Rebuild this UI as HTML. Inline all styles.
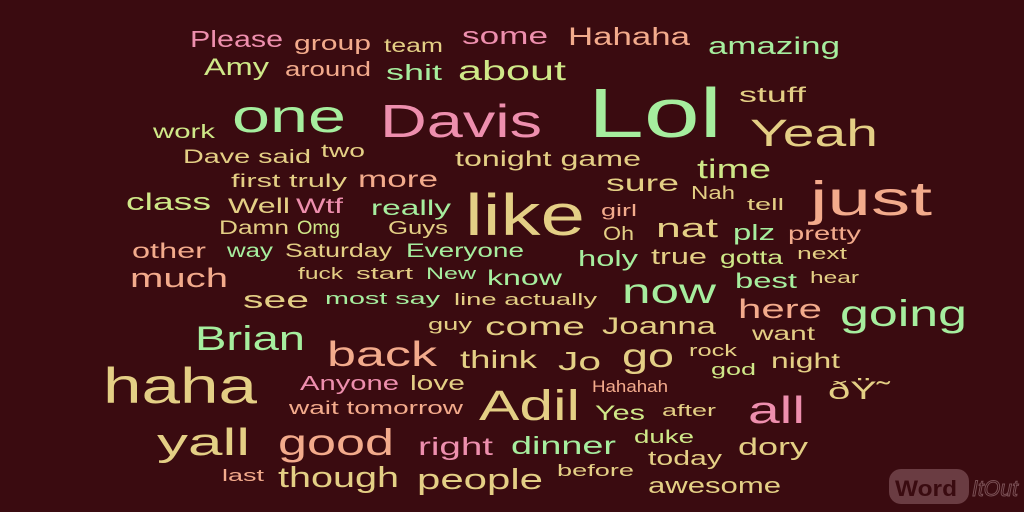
<!DOCTYPE html>
<html><head><meta charset="utf-8"><style>
html,body{margin:0;padding:0;background:#3a0b10;}
svg{display:block}
text{font-family:"Liberation Sans",sans-serif;}
.P{fill:#ee8fae}.G{fill:#a6ee9e}.Y{fill:#e4cf85}.S{fill:#f3ab8c}.L{fill:#cfe888}
</style></head><body>
<svg width="1024" height="512" viewBox="0 0 1024 512">
<rect width="1024" height="512" fill="#3a0b10"/>
<g id="words"></g>
<g>
<rect x="889" y="469" width="80" height="35" rx="12" fill="#6a3c42"/>
<text x="895" y="496" font-size="22" font-weight="bold" fill="#3a0b10" textLength="62" lengthAdjust="spacingAndGlyphs">Word</text>
<text x="972" y="496" font-size="22" font-style="italic" fill="none" stroke="#7a5055" stroke-width="1" textLength="46" lengthAdjust="spacingAndGlyphs">ItOut</text>
</g>
</svg>
<script>
const W=[
["Please",190,283,47,23,"P"],["group",294,371,50,20,"S"],["team",384,443,52,19,"Y"],["some",462,548,44,24,"P"],
["Hahaha",568,690,45,25,"S"],["amazing",708,840,54,24,"G"],["Amy",204,269,75,24,"L"],["around",285,371,76,20,"S"],
["shit",386,442,80,22,"G"],["about",458,566,80,28,"L"],["stuff",739,806,102,21,"Y"],["one",232,346,132,46,"G"],
["Davis",380,542,137,46,"P"],["Lol",588,722,137,70,"G"],["Yeah",750,878,146,38,"Y"],["work",153,215,138,19,"L"],
["Dave said",183,311,163,19,"Y"],["two",321,365,157,18,"Y"],["tonight game",455,641,166,21,"Y"],["time",697,771,178,27,"L"],
["first truly",231,347,187,18,"Y"],["more",358,438,187,23,"S"],["sure",606,679,191,23,"Y"],["Nah",691,735,199,18,"Y"],
["just",810,932,215,48,"S"],["like",465,585,235,58,"Y"],["class",126,211,210,24,"L"],["Well",228,290,213,21,"Y"],
["Wtf",296,343,213,21,"P"],["really",371,451,215,21,"G"],["girl",601,637,216,17,"S"],["tell",747,784,210,17,"Y"],
["Damn",219,289,234,19,"Y"],["Omg",297,340,234,19,"L"],["Guys",388,448,234,18,"Y"],["Oh",603,634,240,19,"Y"],
["nat",656,718,237,27,"Y"],["plz",733,775,240,22,"G"],["pretty",788,861,240,19,"S"],["other",132,206,258,21,"S"],
["way",227,273,257,19,"G"],["Saturday",285,392,257,19,"Y"],["Everyone",406,524,257,19,"G"],["holy",578,638,266,22,"G"],
["true",651,707,264,22,"Y"],["gotta",720,783,264,19,"L"],["next",797,847,259,17,"Y"],["much",130,228,287,27,"S"],
["fuck",298,343,279,17,"Y"],["start",356,413,279,17,"Y"],["New",426,476,279,17,"G"],["know",487,562,285,21,"G"],
["best",735,797,288,21,"G"],["hear",810,859,283,17,"Y"],["now",622,716,303,35,"G"],["see",243,309,308,24,"Y"],
["most say",325,440,304,17,"G"],["line actually",454,597,305,17,"Y"],["here",738,822,318,27,"S"],["going",840,967,326,37,"G"],
["Brian",195,305,350,34,"G"],["guy",428,472,330,17,"Y"],["come",485,585,335,26,"Y"],["Joanna",602,716,334,24,"Y"],
["want",752,815,340,19,"Y"],["back",327,437,366,35,"S"],["think",460,537,368,25,"Y"],["Jo",558,601,370,26,"Y"],
["go",622,674,367,33,"Y"],["rock",689,737,356,17,"Y"],["night",771,840,368,21,"Y"],["haha",103,257,403,50,"Y"],
["Anyone",300,399,390,20,"P"],["love",410,465,390,20,"Y"],["Hahahah",592,668,392,17,"S"],["god",711,756,375,17,"L"],
["ðŸ˜",828,890,399,25,"Y"],["Adil",479,580,420,43,"Y"],["wait tomorrow",289,463,414,18,"S"],["Yes",595,645,420,21,"L"],
["after",662,716,416,17,"Y"],["all",748,805,423,38,"P"],["yall",157,250,455,38,"Y"],["good",278,394,455,37,"S"],
["right",418,493,455,25,"P"],["dinner",511,616,454,25,"G"],["duke",634,694,443,18,"L"],["dory",738,808,455,24,"Y"],
["last",222,264,481,17,"S"],["though",278,399,487,29,"Y"],["people",417,543,489,29,"Y"],["before",557,634,476,17,"Y"],
["today",648,722,465,20,"Y"],["awesome",648,781,493,22,"Y"]
];
const g=document.getElementById('words');
const NS='http://www.w3.org/2000/svg';
W.forEach(w=>{
const t=document.createElementNS(NS,'text');
t.setAttribute('x',w[1]);t.setAttribute('y',w[3]);
t.setAttribute('font-size',w[4]);
t.setAttribute('class',w[5]);
t.setAttribute('textLength',w[2]-w[1]);
t.setAttribute('lengthAdjust','spacingAndGlyphs');


t.textContent=w[0];
g.appendChild(t);
});
</script>
</body></html>
